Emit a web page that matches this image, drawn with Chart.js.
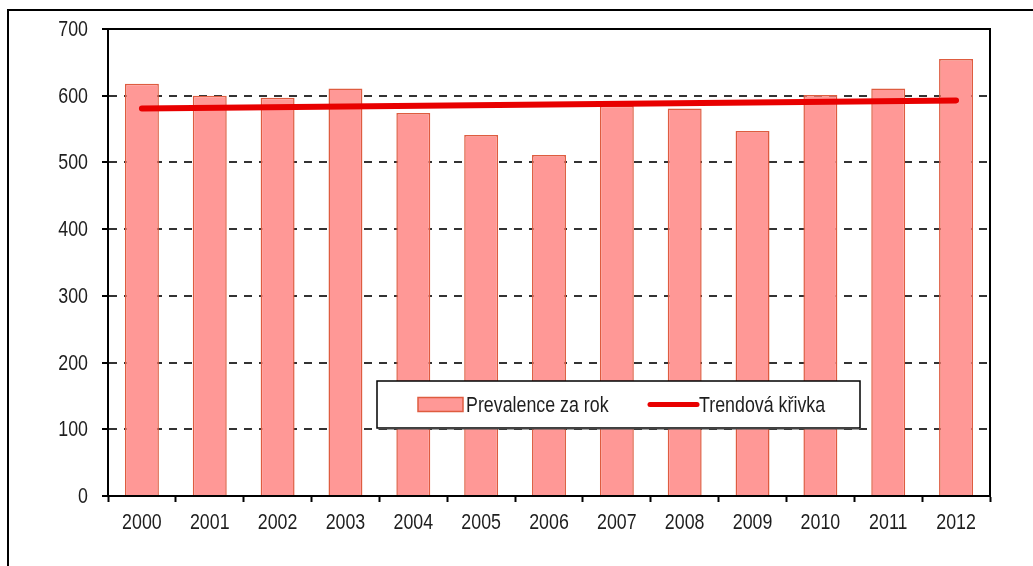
<!DOCTYPE html>
<html lang="cs">
<head>
<meta charset="utf-8">
<title>Prevalence za rok</title>
<script src="https://cdn.jsdelivr.net/npm/chart.js@4.4.1/dist/chart.umd.min.js"></script>
<style>
  html, body { margin: 0; padding: 0; background: #fff; }
  #wrap { position: relative; width: 1033px; height: 566px; }
</style>
</head>
<body>
<div id="wrap"><canvas id="graf" width="1033" height="566"></canvas></div>
<script>
// Data grafu
const roky = ['2000', '2001', '2002', '2003', '2004', '2005', '2006', '2007', '2008', '2009', '2010', '2011', '2012'];
const prevalence = [618, 600, 597, 611, 574, 541, 511, 585, 581, 547, 601, 611, 655];
// Trendová křivka – jen počáteční a koncový bod
const trend = [581, null, null, null, null, null, null, null, null, null, null, null, 593];
const osaYMin = 0;
const osaYMax = 700;
const osaYKrok = 100;

const pismo = "'Liberation Sans', Arial, sans-serif";
const barvaTextu = '#1e1e1e';
const barvaSloupce = 'rgb(255, 152, 150)';
const okrajSloupce = 'rgb(222, 92, 64)';
const barvaTrendu = 'rgb(232, 0, 0)';
// úzké písmo – text se vodorovně stáhne
const zuzeni = 0.81;

(() => {
  const ctx = document.getElementById('graf').getContext('2d');

  const uzkyText = (c, text, x, y) => {
    c.save();
    c.translate(x, y);
    c.scale(zuzeni, 1);
    c.fillText(text, 0, 0);
    c.restore();
  };

  /**
   * Bílé pozadí a rámeček kolem celého obrázku.
   */
  const pozadi = {
    id: 'pozadi',
    beforeDraw: (chart) => {
      const c = chart.ctx;
      c.save();
      c.fillStyle = '#fff';
      c.fillRect(0, 0, chart.width, chart.height);
      c.strokeStyle = '#000';
      c.lineWidth = 2;
      c.beginPath();
      c.moveTo(8, chart.height);
      c.lineTo(8, 10);
      c.lineTo(chart.width, 10);
      c.stroke();
      c.restore();
    },
    // horní a pravá hrana plochy grafu
    beforeDatasetsDraw: (chart) => {
      const { left, right, top, bottom } = chart.chartArea;
      const c = chart.ctx;
      c.save();
      c.strokeStyle = '#000';
      c.lineWidth = 2;
      c.beginPath();
      c.moveTo(left, top);
      c.lineTo(right, top);
      c.lineTo(right, bottom);
      c.stroke();
      c.restore();
    }
  };

  /**
   * Popisky os kreslené úzkým písmem podle pozic z os grafu.
   */
  const popiskyOs = {
    id: 'popiskyOs',
    afterDraw: (chart) => {
      const c = chart.ctx;
      const { x, y } = chart.scales;
      c.save();
      c.fillStyle = barvaTextu;
      c.font = '22px ' + pismo;
      c.textBaseline = 'middle';
      c.textAlign = 'center';
      x.ticks.forEach((t, i) => uzkyText(c, x.getLabelForValue(t.value), x.getPixelForTick(i), 523));
      c.textAlign = 'right';
      y.ticks.forEach((t, i) => uzkyText(c, String(t.value), 88, y.getPixelForTick(i) + 1));
      c.restore();
    }
  };

  /**
   * Legenda v rámečku uvnitř plochy grafu.
   */
  const legendaVGrafu = {
    id: 'legendaVGrafu',
    afterDraw: (chart) => {
      const c = chart.ctx;
      const krivka = chart.data.datasets[0];
      const sloupce = chart.data.datasets[1];
      const x = 377, y = 381, w = 483, h = 47;
      const stred = y + h / 2;
      c.save();
      c.fillStyle = '#fff';
      c.fillRect(x, y, w, h);
      c.strokeStyle = '#000';
      c.lineWidth = 1.5;
      c.strokeRect(x, y, w, h);
      c.fillStyle = '#444';
      c.fillRect(x + 1, y + h, w, 1.5);

      c.fillStyle = sloupce.backgroundColor;
      c.strokeStyle = sloupce.borderColor;
      c.lineWidth = 1.5;
      c.fillRect(418, stred - 7, 45, 14);
      c.strokeRect(418, stred - 7, 45, 14);

      c.strokeStyle = krivka.borderColor;
      c.lineWidth = 5;
      c.lineCap = 'round';
      c.beginPath();
      c.moveTo(650, stred);
      c.lineTo(697, stred);
      c.stroke();

      c.fillStyle = barvaTextu;
      c.font = '22px ' + pismo;
      c.textBaseline = 'middle';
      c.textAlign = 'left';
      uzkyText(c, sloupce.label, 466, stred + 1);
      uzkyText(c, krivka.label, 699, stred + 1);
      c.restore();
    }
  };

  new Chart(ctx, {
    data: {
      labels: roky,
      datasets: [
        {
          type: 'line',
          label: 'Trendová křivka',
          data: trend,
          borderColor: barvaTrendu,
          borderWidth: 6,
          borderCapStyle: 'round',
          pointRadius: 0,
          spanGaps: true,
          tension: 0,
          order: 0
        },
        {
          type: 'bar',
          label: 'Prevalence za rok',
          data: prevalence,
          backgroundColor: barvaSloupce,
          borderColor: okrajSloupce,
          borderWidth: 1.5,
          categoryPercentage: 1,
          barPercentage: 0.5,
          order: 1
        }
      ]
    },
    options: {
      responsive: false,
      animation: false,
      layout: { padding: { left: 0, right: 43, top: 29, bottom: 0 } },
      plugins: {
        legend: { display: false },
        tooltip: { enabled: false }
      },
      scales: {
        x: {
          offset: true,
          afterFit: (s) => { s.height = 70; },
          grid: {
            offset: true,
            drawOnChartArea: false,
            drawTicks: true,
            tickLength: 6,
            tickWidth: 2,
            tickColor: '#000'
          },
          border: { color: '#000', width: 2 },
          ticks: {
            color: 'rgba(0,0,0,0)',
            padding: 6,
            maxRotation: 0,
            font: { family: pismo, size: 18 }
          }
        },
        y: {
          min: osaYMin,
          max: osaYMax,
          afterFit: (s) => { s.width = 108; },
          grid: {
            color: (c) => (c.tick && (c.tick.value === osaYMin || c.tick.value === osaYMax)) ? 'rgba(0,0,0,0)' : '#333',
            lineWidth: 2,
            tickLength: 6,
            tickWidth: 2,
            tickColor: '#000'
          },
          border: { color: '#000', width: 2, dash: [8, 7] },
          ticks: {
            stepSize: osaYKrok,
            color: 'rgba(0,0,0,0)',
            padding: 14,
            font: { family: pismo, size: 18 }
          }
        }
      }
    },
    plugins: [pozadi, popiskyOs, legendaVGrafu]
  });
})();
</script>
</body>
</html>
